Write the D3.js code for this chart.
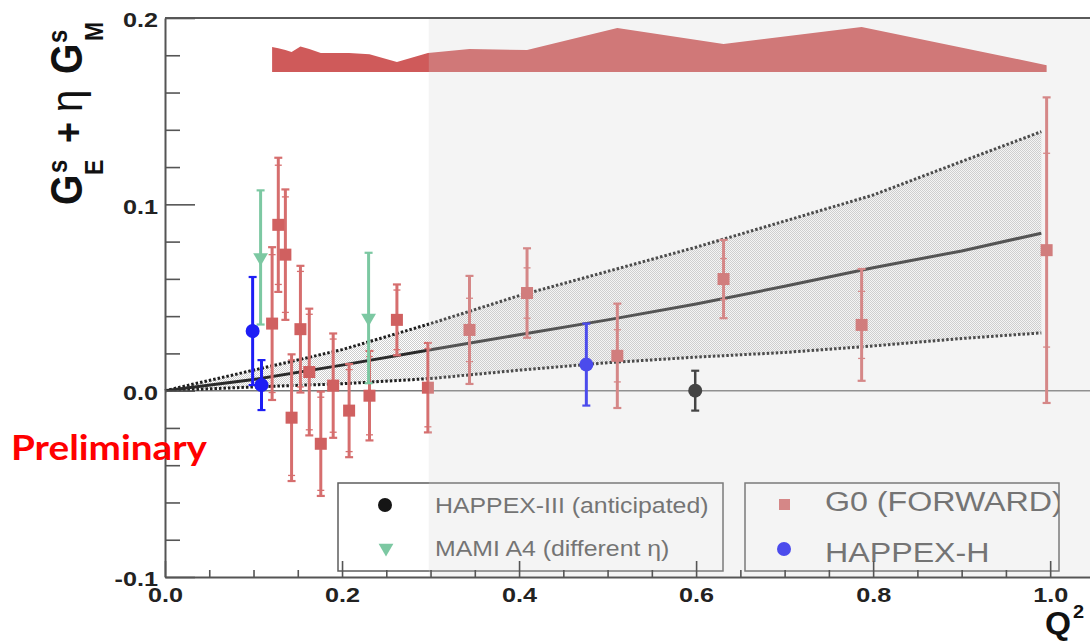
<!DOCTYPE html>
<html>
<head>
<meta charset="utf-8">
<script src="https://cdn.jsdelivr.net/npm/d3@7"></script>
<style>
  body { margin: 0; background: #fff; }
  svg { display: block; }
</style>
</head>
<body>
<svg id="chart" width="1090" height="642"></svg>
<script>
// ---- G0 forward-angle measurements ----
const g0Q2   = [0.121, 0.128, 0.136, 0.143, 0.153, 0.163, 0.176, 0.190, 0.208, 0.231, 0.262, 0.297, 0.344, 0.409, 0.511, 0.631, 0.787, 0.996];
const g0Val  = [0.036, 0.089, 0.073, -0.0145, 0.033, 0.010, -0.0285, 0.0027, -0.0107, -0.0027, 0.038, 0.0016, 0.0326, 0.0524, 0.0187, 0.0599, 0.0353, 0.0754];
const g0Err  = [0.041, 0.036, 0.035, 0.034, 0.034, 0.034, 0.028, 0.028, 0.025, 0.024, 0.019, 0.024, 0.029, 0.024, 0.028, 0.021, 0.030, 0.082];
const g0Stat = [0.037, 0.032, 0.031, 0.031, 0.031, 0.031, 0.025, 0.025, 0.022, 0.021, 0.016, 0.021, 0.017, 0.0135, 0.014, 0.011, 0.018, 0.052];
// correlated systematic band, drawn above a fixed baseline
const g0SysBase = 0.171;
const g0Sys  = [0.0135, 0.0128, 0.0118, 0.0107, 0.0137, 0.0124, 0.0102, 0.0102, 0.0102, 0.0095, 0.0054, 0.0102, 0.0124, 0.0118, 0.0237, 0.0150, 0.0242, 0.0037];

// ---- MAMI A4 ----
const mamiQ2  = [0.108, 0.230];
const mamiVal = [0.0715, 0.039];
const mamiErr = [0.036, 0.035];

// ---- HAPPEX-H ----
const happexQ2  = [0.099, 0.109, 0.476];
const happexVal = [0.032, 0.003, 0.014];
const happexErr = [0.029, 0.0134, 0.022];

// ---- HAPPEX-III (anticipated) ----
const happex3Q2  = [0.599];
const happex3Val = [0.0];
const happex3Err = [0.0107];

// ---- global fit: central curve and error envelope ----
const fitQ2  = [0, 0.1, 0.2, 0.3, 0.4, 0.5, 0.6, 0.7, 0.8, 0.9, 0.99];
const fitMid = [0, 0.006, 0.0137, 0.022, 0.030, 0.038, 0.0465, 0.056, 0.066, 0.075, 0.0845];
const fitHi  = [0, 0.011, 0.022, 0.036, 0.051, 0.064, 0.077, 0.091, 0.105, 0.123, 0.139];
const fitLo  = [0, 0.002, 0.0037, 0.0065, 0.011, 0.015, 0.018, 0.0205, 0.024, 0.028, 0.031];

// ---- axes ----
const xMajor = [0, 0.2, 0.4, 0.6, 0.8, 1.0];
const xTickLabels = ["0.0", "0.2", "0.4", "0.6", "0.8", "1.0"];
const yMajor = [-0.1, 0, 0.1, 0.2];
const yTickLabels = ["-0.1", "0.0", "0.1", "0.2"];
const shadeFrom = 0.298;   // start of the lighter high-Q² region

const legendA = ["HAPPEX-III (anticipated)", "MAMI A4 (different \u03B7)"];
const legendB = ["G0 (FORWARD)", "HAPPEX-H"];

const colG0 = "#d06060", colG0Bar = "#d66e6e";
const colMami = "#7cc8a2";
const colHappex = "#1e1ef5";
const colH3 = "#151515";

const svg = d3.select("#chart");
const W = 1090, H = 642;

const x = d3.scaleLinear().domain([0, 1.045]).range([165, 1090]);
const y = d3.scaleLinear().domain([-0.1, 0.2]).range([577, 18]);

// horizontally stretched text helper
function stext(parent, px, py, str, o) {
  return parent.append("text")
    .attr("transform", `translate(${px},${py}) scale(${o.sx || 1},1)`)
    .attr("text-anchor", o.anchor || "start")
    .attr("font-family", o.family || "'Liberation Sans', Arial, Helvetica, sans-serif")
    .attr("font-weight", o.weight || "normal")
    .attr("font-size", o.size)
    .attr("fill", o.fill || "#222")
    .text(str);
}

// stipple pattern for the fit envelope
const defs = svg.append("defs");
const pat = defs.append("pattern").attr("id", "stip").attr("width", 2).attr("height", 2)
  .attr("patternUnits", "userSpaceOnUse");
pat.append("rect").attr("x", 0).attr("y", 0).attr("width", 1).attr("height", 1).attr("fill", "#cdcdcd");
pat.append("rect").attr("x", 1).attr("y", 1).attr("width", 1).attr("height", 1).attr("fill", "#cdcdcd");

// ---- frame ----
svg.append("line").attr("x1", x(0)).attr("x2", W).attr("y1", 18).attr("y2", 18)
  .attr("stroke", "#5a5a5a").attr("stroke-width", 2);

// ---- zero line ----
svg.append("line").attr("x1", x(0)).attr("x2", W).attr("y1", y(0)).attr("y2", y(0))
  .attr("stroke", "#7a7a7a").attr("stroke-width", 1.5);

// ---- fit envelope ----
const fitPts = fitQ2.map((q, i) => ({q, mid: fitMid[i], hi: fitHi[i], lo: fitLo[i]}));
svg.append("path").datum(fitPts)
  .attr("d", d3.area().x(d => x(d.q)).y0(d => y(d.lo)).y1(d => y(d.hi)))
  .attr("fill", "url(#stip)");
svg.append("path").datum(fitPts)
  .attr("d", d3.line().x(d => x(d.q)).y(d => y(d.hi)))
  .attr("fill", "none").attr("stroke", "#1e1e1e").attr("stroke-width", 3).attr("stroke-dasharray", "2.5,2");
svg.append("path").datum(fitPts)
  .attr("d", d3.line().x(d => x(d.q)).y(d => y(d.lo)))
  .attr("fill", "none").attr("stroke", "#1e1e1e").attr("stroke-width", 3).attr("stroke-dasharray", "2.5,2");
svg.append("path").datum(fitPts)
  .attr("d", d3.line().x(d => x(d.q)).y(d => y(d.mid)))
  .attr("fill", "none").attr("stroke", "#2a2a2a").attr("stroke-width", 3);

// ---- G0 systematic band ----
const sysPts = g0Q2.map((q, i) => ({q, h: g0Sys[i]}));
svg.append("path").datum(sysPts)
  .attr("d", d3.area().x(d => x(d.q)).y0(y(g0SysBase)).y1(d => y(g0SysBase + d.h)))
  .attr("fill", "#cf5a5a");

// ---- error bars ----
function errorBars(q, v, e, stat, color, width) {
  const g = svg.append("g");
  q.forEach((qq, i) => {
    const cx = x(qq);
    g.append("line").attr("x1", cx).attr("x2", cx).attr("y1", y(v[i] + e[i])).attr("y2", y(v[i] - e[i]))
      .attr("stroke", color).attr("stroke-width", width);
    [v[i] + e[i], v[i] - e[i]].forEach(t => {
      g.append("line").attr("x1", cx - 4).attr("x2", cx + 4).attr("y1", y(t)).attr("y2", y(t))
        .attr("stroke", color).attr("stroke-width", 2.2);
    });
    if (stat) {
      [v[i] + stat[i], v[i] - stat[i]].forEach(t => {
        g.append("line").attr("x1", cx - 3.5).attr("x2", cx + 3.5).attr("y1", y(t)).attr("y2", y(t))
          .attr("stroke", color).attr("stroke-width", 1.3);
      });
    }
  });
  return g;
}

errorBars(g0Q2, g0Val, g0Err, g0Stat, colG0Bar, 3);
errorBars(mamiQ2, mamiVal, mamiErr, null, colMami, 3);
errorBars(happexQ2, happexVal, happexErr, null, colHappex, 3);
errorBars(happex3Q2, happex3Val, happex3Err, null, colH3, 2.5);

// ---- markers ----
svg.append("g").selectAll("rect").data(g0Q2).join("rect")
  .attr("x", (d) => x(d) - 6).attr("y", (d, i) => y(g0Val[i]) - 6)
  .attr("width", 12).attr("height", 12).attr("fill", colG0);

const tri = d3.symbol().type(d3.symbolTriangle).size(95);
svg.append("g").selectAll("path").data(mamiQ2).join("path")
  .attr("d", tri)
  .attr("transform", (d, i) => `translate(${x(d)},${y(mamiVal[i])}) rotate(180)`)
  .attr("fill", colMami);

svg.append("g").selectAll("circle").data(happexQ2).join("circle")
  .attr("cx", d => x(d)).attr("cy", (d, i) => y(happexVal[i])).attr("r", 7).attr("fill", colHappex);

svg.append("g").selectAll("circle").data(happex3Q2).join("circle")
  .attr("cx", d => x(d)).attr("cy", (d, i) => y(happex3Val[i])).attr("r", 7).attr("fill", colH3);

// ---- legends ----
const legA = svg.append("g");
legA.append("rect").attr("x", 338).attr("y", 483).attr("width", 385).attr("height", 88)
  .attr("fill", "#fff").attr("stroke", "#5e5e5e").attr("stroke-width", 1.5);
legA.append("circle").attr("cx", 385).attr("cy", 505).attr("r", 7).attr("fill", colH3);
legA.append("path").attr("d", tri).attr("transform", "translate(386,548) rotate(180)").attr("fill", colMami);
stext(legA, 435, 513, legendA[0], {size: 22, sx: 1.13, fill: "#555"});
stext(legA, 435, 556, legendA[1], {size: 22, sx: 1.13, fill: "#555"});

defs.append("clipPath").attr("id", "legBclip").append("rect")
  .attr("x", 745).attr("y", 483).attr("width", 314).attr("height", 88);
const legB = svg.append("g");
legB.append("rect").attr("x", 745).attr("y", 483).attr("width", 314).attr("height", 88)
  .attr("fill", "#fff").attr("stroke", "#5e5e5e").attr("stroke-width", 1.5);
legB.append("rect").attr("x", 779).attr("y", 499).attr("width", 11).attr("height", 11).attr("fill", colG0Bar);
legB.append("circle").attr("cx", 784).attr("cy", 549).attr("r", 7).attr("fill", colHappex);
const legBText = legB.append("g").attr("clip-path", "url(#legBclip)");
stext(legBText, 825, 511, legendB[0], {size: 28, sx: 1.15, fill: "#555"});
stext(legBText, 825, 562, legendB[1], {size: 28, sx: 1.15, fill: "#555"});

// ---- lighter high-Q² region ----
svg.append("rect").attr("x", x(shadeFrom)).attr("y", 19).attr("width", W - x(shadeFrom)).attr("height", 557)
  .attr("fill", "#d2d2d2").attr("opacity", 0.25);

// ---- axes ----
const axisCol = "#555";
const yMinor = d3.range(-0.1, 0.2001, 0.02).filter(v => yMajor.every(m => Math.abs(m - v) > 1e-6));
const xMinor = d3.range(0, 1.0001, 0.05).filter(v => xMajor.every(m => Math.abs(m - v) > 1e-6));

const yAx = svg.append("g").attr("transform", `translate(${x(0)},0)`)
  .call(d3.axisLeft(y).tickValues(yMajor).tickSizeInner(-30).tickSizeOuter(0).tickPadding(7)
    .tickFormat((d, i) => yTickLabels[i]));
svg.append("g").attr("transform", `translate(${x(0)},0)`)
  .call(d3.axisLeft(y).tickValues(yMinor).tickSizeInner(-15).tickSizeOuter(0).tickFormat(""))
  .call(g => g.select(".domain").remove());

const xAx = svg.append("g").attr("transform", `translate(0,${y(-0.1)})`)
  .call(d3.axisBottom(x).tickValues(xMajor).tickSizeInner(-16).tickSizeOuter(0).tickPadding(10)
    .tickFormat((d, i) => xTickLabels[i]));
svg.append("g").attr("transform", `translate(0,${y(-0.1)})`)
  .call(d3.axisBottom(x).tickValues(xMinor).tickSizeInner(-7).tickSizeOuter(0).tickFormat(""))
  .call(g => g.select(".domain").remove());

svg.selectAll(".domain").attr("stroke", axisCol).attr("stroke-width", 2);
svg.selectAll(".tick line").attr("stroke", axisCol).attr("stroke-width", 1.6);
svg.selectAll(".tick text")
  .attr("font-family", "'Liberation Sans', Arial, Helvetica, sans-serif")
  .attr("font-weight", "bold").attr("font-size", 21).attr("fill", "#222");
// widen tick labels slightly
yAx.selectAll(".tick text").attr("transform", "translate(0,2) scale(1.2,1)").attr("x", -7 / 1.2);
xAx.selectAll(".tick text").attr("transform", "scale(1.2,1)").attr("x", 0);

// ---- axis titles ----
const yt = svg.append("g").attr("transform", "translate(82,205) rotate(-90) scale(1,1.13)")
  .attr("font-family", "'Liberation Sans', Arial, Helvetica, sans-serif").attr("fill", "#111");
yt.append("text").attr("x", 0).attr("y", 0).attr("font-size", 39).attr("font-weight", "bold").text("G");
yt.append("text").attr("x", 32).attr("y", -13).attr("font-size", 24).attr("font-weight", "bold").text("s");
yt.append("text").attr("x", 30).attr("y", 19).attr("font-size", 23).attr("font-weight", "bold").text("E");
yt.append("text").attr("x", 62).attr("y", 0).attr("font-size", 36).attr("font-weight", "bold").text("+");
yt.append("text").attr("x", 93).attr("y", 0).attr("font-size", 40).text("\u03B7");
yt.append("text").attr("x", 131).attr("y", 0).attr("font-size", 39).attr("font-weight", "bold").text("G");
yt.append("text").attr("x", 162).attr("y", -13).attr("font-size", 24).attr("font-weight", "bold").text("s");
yt.append("text").attr("x", 164).attr("y", 19).attr("font-size", 23).attr("font-weight", "bold").text("M");

// Q² title, kept clear of the last tick label and the bottom edge
const xt = svg.append("g").attr("font-family", "'Liberation Sans', Arial, Helvetica, sans-serif").attr("fill", "#111");
stext(xt, 1045, 634, "Q", {size: 31, sx: 1.08, weight: "bold", fill: "#111"});
stext(xt, 1073, 618, "2", {size: 19, sx: 1.05, weight: "bold", fill: "#111"});

// ---- watermark label ----
svg.append("text").attr("x", 11).attr("y", 460)
  .attr("font-family", "'Comic Sans MS', Lato, 'Open Sans', sans-serif")
  .attr("font-weight", "bold").attr("font-size", 35).attr("fill", "#ff0000")
  .attr("textLength", 196).attr("lengthAdjust", "spacingAndGlyphs")
  .text("Preliminary");
</script>
</body>
</html>
